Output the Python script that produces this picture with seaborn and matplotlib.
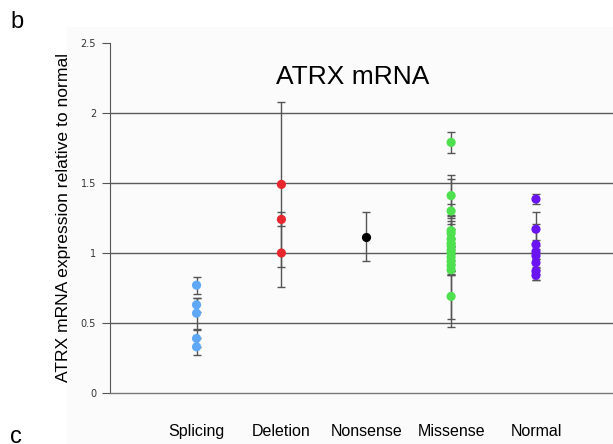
import pandas as pd
import seaborn as sns
import matplotlib.pyplot as plt
from matplotlib.patches import Rectangle

# data
categories = ["Splicing", "Deletion", "Nonsense", "Missense", "Normal"]
colors = ["#5ea8f7", "#e8262d", "#000000", "#4fe04f", "#6a14f2"]

splicing = [0.77, 0.63, 0.57, 0.39, 0.33]
splicing_err = [0.06, 0.05, 0.11, 0.06, 0.06]
deletion = [1.49, 1.24, 1.00]
deletion_err = [0.59, 0.05, 0.24]
nonsense = [1.115]
nonsense_err = [0.175]
missense = [1.79, 1.41, 1.30, 1.16, 1.14, 1.10, 1.07, 1.05, 1.02, 1.00, 0.97, 0.94, 0.91, 0.88, 0.69]
missense_err = [0.075, 0.145, 0.05, 0.05, 0.09, 0.07, 0.2, 0.05, 0.03, 0.53, 0.1, 0.1, 0.04, 0.04, 0.16]
normal = [1.385, 1.17, 1.06, 1.01, 0.98, 0.93, 0.87, 0.84]
normal_err = [0.035, 0.12, 0.03, 0.2, 0.02, 0.03, 0.02, 0.035]

rows = []
for cat, vals, errs in zip(categories,
                           [splicing, deletion, nonsense, missense, normal],
                           [splicing_err, deletion_err, nonsense_err, missense_err, normal_err]):
    for v, e in zip(vals, errs):
        rows.append({"group": cat, "value": v, "err": e})
df = pd.DataFrame(rows)
df["group"] = pd.Categorical(df["group"], categories=categories, ordered=True)
df["pos"] = df["group"].cat.codes

sns.set_style("white")
plt.rcParams["font.family"] = ["Liberation Sans", "DejaVu Sans"]
plt.rcParams["text.color"] = "black"
plt.rcParams["axes.labelcolor"] = "black"
plt.rcParams["xtick.color"] = "black"

fig = plt.figure(figsize=(6.13, 4.44), dpi=100)
# faint chart-area background
fig.patches.append(Rectangle((67 / 613, 0), 1, 1 - 27 / 444, transform=fig.transFigure,
                             facecolor="#fbfbfb", edgecolor="none", zorder=-10))
ax = fig.add_axes([110 / 613, 51 / 444, 1 - 110 / 613 + 0.01, 350 / 444])
ax.patch.set_alpha(0)

# gridlines
for g in [0.5, 1.0, 1.5, 2.0]:
    ax.axhline(g, color="#5a5a5a", lw=1.0, zorder=1)

ax.errorbar(df["pos"], df["value"], yerr=df["err"], fmt="none", ecolor="#555555",
            elinewidth=1.0, capsize=3, capthick=1.0, zorder=2)
sns.stripplot(data=df, x="group", y="value", hue="group", palette=colors, jitter=False,
              size=6.6, linewidth=0, legend=False, ax=ax, zorder=3)

ax.set_xlim(-1.02, 4.98)
ax.set_ylim(0, 2.5)
ax.set_yticks([0, 0.5, 1, 1.5, 2, 2.5])
ax.set_yticklabels(["0", "0.5", "1", "1.5", "2", "2.5"], fontsize=7, color="#333333",
                   family="DejaVu Sans")
ax.tick_params(axis="y", direction="out", length=6, width=0.8, color="#555555", left=True, pad=4)
ax.tick_params(axis="x", length=0, pad=22, labelsize=11.5, labelcolor="black")
ax.set_xlabel("")
ax.set_ylabel("ATRX mRNA expression relative to normal", fontsize=12.6, labelpad=7)

for side in ["top", "right"]:
    ax.spines[side].set_visible(False)
ax.spines["left"].set_color("#555555")
ax.spines["left"].set_linewidth(0.8)
ax.spines["bottom"].set_color("#777777")
ax.spines["bottom"].set_linewidth(1.0)

ax.text(353 / 613, 1 - 77 / 444, "ATRX mRNA", transform=fig.transFigure, fontsize=19,
        ha="center", va="center")
fig.text(10 / 613, 1 - 22 / 444, "b", fontsize=17, va="center", ha="left")
fig.text(10 / 613, -4 / 444, "c", fontsize=17, va="bottom", ha="left")

fig.savefig("out.png", dpi=100)
